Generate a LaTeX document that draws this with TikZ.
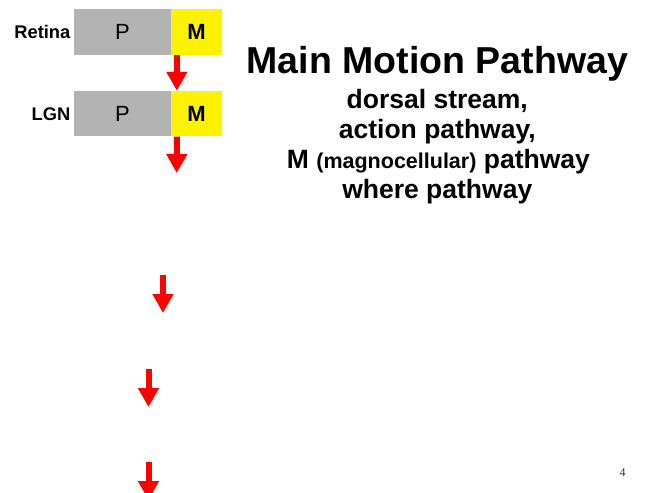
\documentclass[tikz,border=0pt]{standalone}
\usepackage{fontspec}
\setmainfont{Liberation Sans}
\newfontfamily\pagefont{Liberation Serif}
\usetikzlibrary{arrows.meta}
\definecolor{pgray}{RGB}{179,179,179}

\begin{document}
\begin{tikzpicture}[x=1pt,y=-1pt,
    cell/.style={rectangle,inner sep=0pt,minimum height=45.5pt},
    pcell/.style={cell,fill=pgray,minimum width=97pt,font=\fontsize{22}{22}\selectfont},
    mcell/.style={cell,fill=yellow,minimum width=50.5pt,anchor=west,font=\bfseries\fontsize{22}{22}\selectfont},
    area/.style={anchor=east,inner sep=0pt,font=\bfseries\fontsize{18.3}{18.3}\selectfont},
    subline/.style={anchor=base,inner sep=0pt,font=\bfseries\fontsize{26.5}{26.5}\selectfont},
    flow/.style={draw=red,line width=6pt,-{Triangle[width=20pt,length=19pt]}}]
  \useasboundingbox (0,0) rectangle (646,493);
  % layers
  \node[pcell] (retP) at (122.5,31.75) {P};
  \node[mcell] (retM) at (retP.east) {M};
  \node[area] (retL) at ([xshift=-3.3pt]retP.west) {Retina};
  \node[pcell] (lgnP) at (122.5,113.7) {P};
  \node[mcell] (lgnM) at (lgnP.east) {M};
  \node[area] (lgnL) at ([xshift=-3.3pt]lgnP.west) {LGN};
  % free arrow ends
  \coordinate (e2) at (176.7,173);
  \coordinate (s3) at (163,275);
  \coordinate (e3) at (163,313);
  \coordinate (s4) at (148.5,369);
  \coordinate (e4) at (148.5,407);
  \coordinate (s5) at (148.5,462);
  \coordinate (e5) at (148.5,500);
  \draw[flow] ([xshift=5.7pt]retM.south west) -- ([xshift=5.7pt]lgnM.north west);
  \draw[flow] ([xshift=5.7pt]lgnM.south west) -- (e2);
  \draw[flow] (s3) -- (e3);
  \draw[flow] (s4) -- (e4);
  \draw[flow] (s5) -- (e5);
  % text
  \node[anchor=base,inner sep=0pt,font=\bfseries\fontsize{37.5}{37.5}\selectfont] (title) at (437.3,73) {Main Motion Pathway};
  \node[subline] (sub1) at (437.3,108.5) {dorsal stream,};
  \node[subline] (sub2) at (437.3,138) {action pathway,};
  \node[subline] (sub3) at (438.4,168) {M {\fontsize{21.5}{21.5}\selectfont(magnocellular)} pathway};
  \node[subline] (sub4) at (437.3,198.5) {where pathway};
  \node[anchor=base,inner sep=0pt,text=black!80,font=\pagefont\fontsize{12}{12}\selectfont] (pnum) at (622.5,476) {4};
\end{tikzpicture}
\end{document}
